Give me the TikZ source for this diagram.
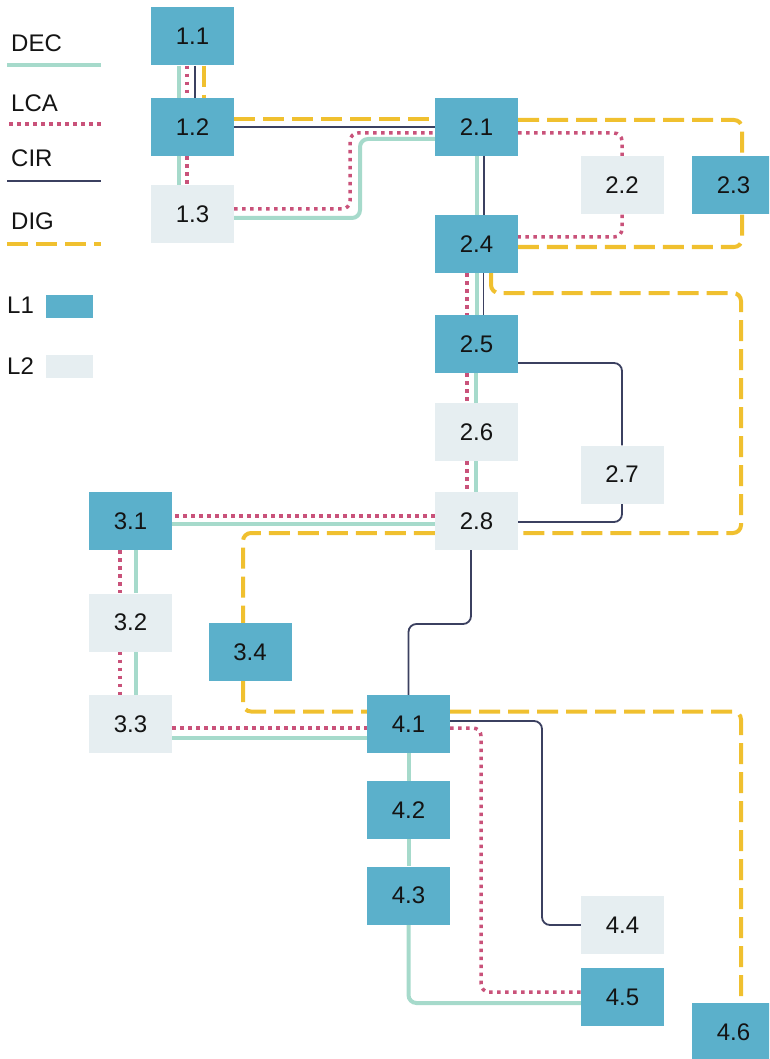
\documentclass[tikz,border=0pt]{standalone}
\usepackage{fontspec}
\setmainfont{Liberation Sans}
\usetikzlibrary{calc,backgrounds}
\definecolor{lone}{HTML}{5BB0CB}
\definecolor{ltwo}{HTML}{E6EEF1}
\definecolor{decc}{HTML}{A6DACB}
\definecolor{lcac}{HTML}{C9527A}
\definecolor{circ}{HTML}{3B4060}
\definecolor{digc}{HTML}{F0C02F}
\definecolor{txt}{HTML}{141414}
\tikzset{
  box/.style={rectangle, minimum width=83pt, minimum height=58pt, inner sep=0pt,
    text=txt, font=\fontsize{24}{26}\selectfont},
  lonebox/.style={box, fill=lone},
  ltwobox/.style={box, fill=ltwo},
  legtext/.style={anchor=west, inner sep=0pt, text=txt, font=\fontsize{24}{26}\selectfont},
  decline/.style={draw=decc, line width=4pt, rounded corners=8pt},
  lcaline/.style={draw=lcac, line width=3.5pt, dash pattern=on 3.5pt off 4.5pt, rounded corners=8pt},
  cirline/.style={draw=circ, line width=1.8pt, rounded corners=8pt},
  digline/.style={draw=digc, line width=4pt, dash pattern=on 21pt off 8pt, rounded corners=8pt},
}
\begin{document}
\begin{tikzpicture}[x=1pt,y=-1pt]
\useasboundingbox (0,0) rectangle (769,1059);
\clip (0,0) rectangle (769,1059);

% legend
\node[legtext] (tdec) at (11,43) {DEC};
\node[legtext] (tlca) at (11,103) {LCA};
\node[legtext] (tcir) at (11,158) {CIR};
\node[legtext] (tdig) at (11,221) {DIG};
\node[legtext] (tlone) at (7,305) {L1};
\node[legtext] (tltwo) at (7,366) {L2};
\draw[decline] (7,65) -- (101,65);
\draw[lcaline] (9,124) -- (101,124);
\draw[cirline] (7,181) -- (101,181);
\draw[digline] (7,244) -- (101,244);
\fill[lone] (46,295) rectangle (93,318);
\fill[ltwo] (46,355) rectangle (93,378);

% nodes
\node[lonebox] (n11) at (192.5,36.5) {1.1};
\node[lonebox] (n12) at (192.5,127) {1.2};
\node[ltwobox] (n13) at (192.5,214.5) {1.3};
\node[lonebox] (n21) at (476.5,127) {2.1};
\node[ltwobox] (n22) at (622,185.5) {2.2};
\node[lonebox] (n23) at (733.5,185.5) {2.3};
\node[lonebox] (n24) at (476.5,244) {2.4};
\node[lonebox] (n25) at (476.5,344) {2.5};
\node[ltwobox] (n26) at (476.5,432) {2.6};
\node[ltwobox] (n27) at (622,474.5) {2.7};
\node[ltwobox] (n28) at (476.5,521) {2.8};
\node[lonebox] (n31) at (130.5,521) {3.1};
\node[ltwobox] (n32) at (130.5,622.5) {3.2};
\node[ltwobox] (n33) at (130.5,724) {3.3};
\node[lonebox] (n34) at (250,652) {3.4};
\node[lonebox] (n41) at (408.5,724) {4.1};
\node[lonebox] (n42) at (408.5,810) {4.2};
\node[lonebox] (n43) at (408.5,895.5) {4.3};
\node[ltwobox] (n44) at (622.5,925) {4.4};
\node[lonebox] (n45) at (622.5,997) {4.5};
\node[lonebox] (n46) at (733.5,1032) {4.6};

\begin{scope}[on background layer]
% DEC
\draw[decline] ($(n11.south)+(-13.5,0)$) -- ($(n12.north)+(-13.5,0)$);
\draw[decline] ($(n12.south)+(-13.5,0)$) -- ($(n13.north)+(-13.5,0)$);
\draw[decline] ($(n13.east)+(0,3.5)$) -| (360,139) -- ($(n21.west)+(0,12)$);
\draw[decline] (n21.south) -- (n24.north);
\draw[decline] (n24.south) -- (n25.north);
\draw[decline] ($(n25.south)+(-1,0)$) -- ($(n26.north)+(-1,0)$);
\draw[decline] ($(n26.south)+(-1,0)$) -- ($(n28.north)+(-1,0)$);
\draw[decline] ($(n28.west)+(0,3)$) -- ($(n31.east)+(0,3)$);
\draw[decline] ($(n31.south)+(5.5,0)$) -- ($(n32.north)+(5.5,0)$);
\draw[decline] ($(n32.south)+(5.5,0)$) -- ($(n33.north)+(5.5,0)$);
\draw[decline] ($(n33.east)+(0,14)$) -- ($(n41.west)+(0,14)$);
\draw[decline] (n41.south) -- (n42.north);
\draw[decline] (n42.south) -- (n43.north);
\draw[decline] (n43.south) |- ($(n45.west)+(0,6)$);
% LCA
\draw[lcaline] ($(n11.south)+(-5.5,0)$) -- ($(n12.north)+(-5.5,0)$);
\draw[lcaline] ($(n12.south)+(-5.5,0)$) -- ($(n13.north)+(-5.5,0)$);
\draw[lcaline] ($(n13.east)+(0,-5.5)$) -| (350,133) -- ($(n21.west)+(0,6)$);
\draw[lcaline] ($(n21.east)+(0,6)$) -| (n22.north);
\draw[lcaline] (n22.south) |- ($(n24.east)+(0,-7)$);
\draw[lcaline] ($(n24.south)+(-9.5,0)$) -- ($(n25.north)+(-9.5,0)$);
\draw[lcaline] ($(n25.south)+(-9.5,0)$) -- ($(n26.north)+(-9.5,0)$);
\draw[lcaline] ($(n26.south)+(-9.5,0)$) -- ($(n28.north)+(-9.5,0)$);
\draw[lcaline] ($(n28.west)+(0,-5)$) -- ($(n31.east)+(0,-5)$);
\draw[lcaline] ($(n31.south)+(-10.5,0)$) -- ($(n32.north)+(-10.5,0)$);
\draw[lcaline] ($(n32.south)+(-10.5,0)$) -- ($(n33.north)+(-10.5,0)$);
\draw[lcaline] ($(n33.east)+(0,4)$) -- ($(n41.west)+(0,4)$);
\draw[lcaline] ($(n41.east)+(0,4)$) -| (481,992) -- ($(n45.west)+(0,-5)$);
% CIR
\draw[cirline] ($(n11.south)+(2.5,0)$) -- ($(n12.north)+(2.5,0)$);
\draw[cirline] (n12.east) -- (n21.west);
\draw[cirline] ($(n21.south)+(7.5,0)$) -- ($(n24.north)+(7.5,0)$);
\draw[cirline] ($(n24.south)+(7,0)$) -- ($(n25.north)+(7,0)$);
\draw[cirline] ($(n25.east)+(0,19)$) -| (n27.north);
\draw[cirline] (n27.south) |- ($(n28.east)+(0,1)$);
\draw[cirline] ($(n28.south)+(-5.5,0)$) |- (430,624) -| (n41.north);
\draw[cirline] ($(n41.east)+(0,-3)$) -| (542,925) -- (n44.west);
% DIG
\draw[digline] ($(n11.south)+(11.5,0)$) -- ($(n12.north)+(11.5,0)$);
\draw[digline] ($(n12.east)+(0,-8)$) -- ($(n21.west)+(0,-8)$);
\draw[digline] ($(n21.east)+(0,-7)$) -| ($(n23.north)+(8.5,0)$);
\draw[digline] ($(n23.south)+(8.5,0)$) |- ($(n24.east)+(0,3)$);
\draw[digline] ($(n24.south)+(14.5,0)$) |- (600,293) -| (741,533) -- ($(n28.east)+(0,12)$);
\draw[digline] ($(n28.west)+(0,12)$) -| ($(n34.north)+(-7,0)$);
\draw[digline] ($(n34.south)+(-7,0)$) |- ($(n41.west)+(0,-12.5)$);
\draw[digline] ($(n41.east)+(0,-12.5)$) -| ($(n46.north)+(7.5,0)$);
\end{scope}
\end{tikzpicture}
\end{document}
